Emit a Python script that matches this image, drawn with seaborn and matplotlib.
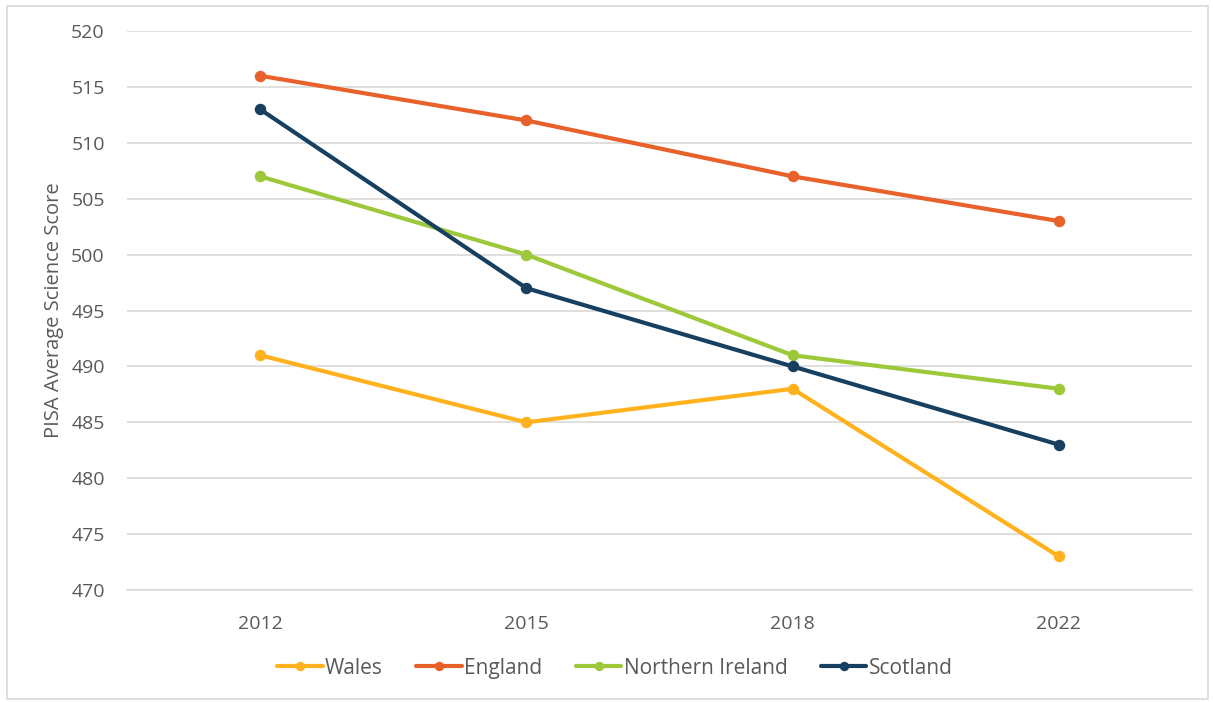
import pandas as pd
import seaborn as sns
import matplotlib.pyplot as plt

# data
years = ["2012", "2015", "2018", "2022"]
wales = [491, 485, 488, 473]
england = [516, 512, 507, 503]
northern_ireland = [507, 500, 491, 488]
scotland = [513, 497, 490, 483]

series = {
    "Wales": wales,
    "England": england,
    "Northern Ireland": northern_ireland,
    "Scotland": scotland,
}
colors = {
    "Wales": "#FFB21E",
    "England": "#E8602A",
    "Northern Ireland": "#9CC83A",
    "Scotland": "#173F5F",
}

df = pd.DataFrame(
    [(name, y, v) for name, vals in series.items() for y, v in zip(years, vals)],
    columns=["nation", "year", "score"],
)

sns.set_style("white")
plt.rcParams["font.family"] = ["Open Sans", "DejaVu Sans"]
text_col = "#595959"
grid_col = "#D9D9D9"

fig = plt.figure(figsize=(12.13, 7.02), dpi=100)
ax = fig.add_axes([0.1047, 0.1595, 0.878, 0.7963])

sns.pointplot(
    data=df, x="year", y="score", hue="nation", order=years,
    hue_order=list(series), palette=colors, errorbar=None,
    markers="o", markersize=6, linewidth=3, ax=ax,
)

ax.set_xlim(-0.5, 3.5)
ax.set_ylim(470, 520)
ax.set_yticks(range(470, 521, 5))
ax.yaxis.grid(True, color=grid_col, linewidth=1.2)
ax.set_axisbelow(True)
for s in ["left", "right", "top"]:
    ax.spines[s].set_visible(False)
ax.spines["bottom"].set_color(grid_col)
ax.spines["bottom"].set_linewidth(1.2)
ax.tick_params(axis="both", length=0, labelsize=14, labelcolor=text_col)
ax.tick_params(axis="x", pad=18)
ax.tick_params(axis="y", pad=16)
ax.set_xlabel("")
ax.set_ylabel("PISA Average Science Score", fontsize=14.5, color=text_col, labelpad=5)

handles, labels = ax.get_legend_handles_labels()
ax.legend(
    handles, labels, ncol=4, loc="center", bbox_to_anchor=(0.458, -0.14),
    frameon=False, fontsize=15, labelcolor=text_col, handlelength=2.2,
    handletextpad=0.1, columnspacing=1.6, markerscale=0.75,
)

# light frame round the whole chart
fig.patches.append(plt.Rectangle((0.006, 0.004), 0.99, 0.987, transform=fig.transFigure,
                                 fill=False, edgecolor="#D9D9D9", linewidth=1.2))

fig.savefig("out.png", dpi=100)
